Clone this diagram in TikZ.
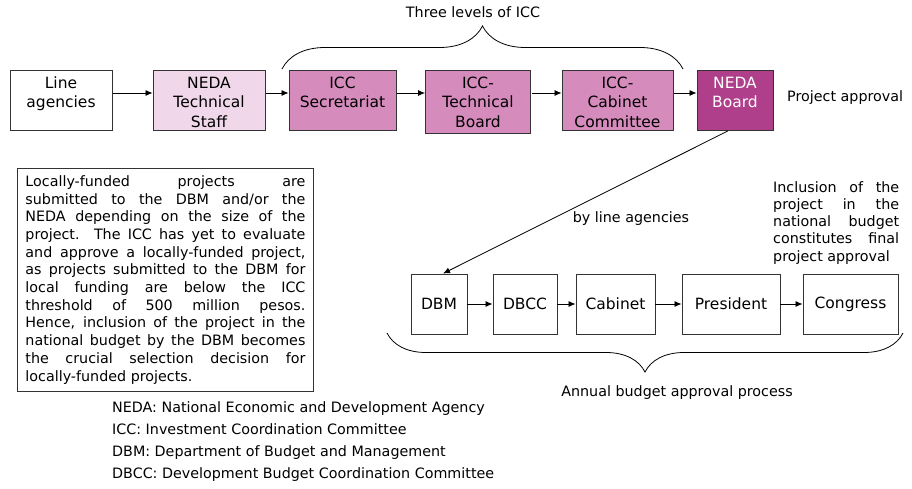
\documentclass[tikz,border=0pt]{standalone}
\usepackage{fontspec}
\setmainfont{DejaVu Sans}
\usepackage{xcolor}
\usepackage{tikz}
\usetikzlibrary{arrows.meta,decorations.pathreplacing}
\definecolor{edge}{HTML}{333333}
\definecolor{staff}{HTML}{F0D7E9}
\definecolor{icc}{HTML}{D68BBD}
\definecolor{board}{HTML}{AF3F8A}
\newcommand{\jline}[1]{\makebox[280pt][s]{#1}}
\newcommand{\kline}[1]{\makebox[126pt][s]{#1}}
\newcommand{\stack}[1]{\begin{tabular}[t]{@{}c@{}}#1\end{tabular}}
\tikzset{
  box/.style={draw=edge, line width=0.9pt, anchor=north, minimum height=60pt,
    inner xsep=2pt, inner ysep=0pt, text height=18pt, text depth=42pt,
    font=\fontsize{15.5}{19.5}\selectfont},
  sbox/.style={draw=edge, line width=0.9pt, minimum height=60pt,
    font=\fontsize{15.5}{19}\selectfont},
  arr/.style={draw=black, line width=0.8pt, -{Latex[length=7pt,width=6pt]}},
  brc/.style={draw=black, line width=0.8pt, decorate},
  lab/.style={font=\fontsize{14.3}{17.3}\selectfont, inner sep=0pt},
}
\begin{document}
\begin{tikzpicture}[x=1pt,y=-1pt]
  \useasboundingbox (0,0) rectangle (912,488);
  % ICC route
  \node[box,minimum width=102pt] (la) at (61,70) {\stack{Line\\agencies}};
  \node[box,fill=staff,minimum width=112pt] (nts) at (209,70) {\stack{NEDA\\Technical\\Staff}};
  \node[box,fill=icc,minimum width=107pt] (sec) at (342.5,70) {\stack{ICC\\Secretariat}};
  \node[box,fill=icc,minimum width=105pt,minimum height=63pt,text depth=45pt] (tb) at (478,70) {\stack{ICC-\\Technical\\Board}};
  \node[box,fill=icc,minimum width=111pt] (cc) at (617.5,70) {\stack{ICC-\\Cabinet\\Committee}};
  \node[box,fill=board,text=white,minimum width=76pt] (nb) at (735,70) {\stack{NEDA\\Board}};
  \foreach \A/\B in {la/nts,nts/sec,sec/tb,tb/cc,cc/nb}
    \draw[arr] ([xshift=1pt]\A.east |- 0,93) -- (\B.west |- 0,93);
  \draw[brc,decoration={brace,amplitude=43pt}] (282,69) -- (683,69);
  \node[lab,anchor=base] (lvl) at (473,17.5) {Three levels of ICC};
  \node[lab,anchor=base west] (pa) at (787,101) {Project approval};

  % budget route
  \node[sbox,minimum width=56pt] (dbm) at (439,304) {DBM};
  \node[sbox,minimum width=64pt] (dbcc) at (525,304) {DBCC};
  \node[sbox,minimum width=79pt] (cab) at (615.5,304) {Cabinet};
  \node[sbox,minimum width=98pt] (pres) at (731,304) {President};
  \node[sbox,minimum width=95pt] (cong) at (850.5,304) {Congress};
  \foreach \A/\B in {dbm/dbcc,dbcc/cab,cab/pres,pres/cong}
    \draw[arr] (\A) -- (\B);
  \draw[arr] ([xshift=-7pt]nb.south) -- ([xshift=4pt]dbm.north);
  \node[lab,anchor=base] (bla) at (631,222) {by line agencies};
  \node[lab,anchor=north west,align=left] (incl) at (773,181)
    {\kline{Inclusion of the}\\\kline{project in the}\\\kline{national budget}\\\kline{constitutes final}\\project approval};
  \draw[brc,decoration={brace,amplitude=39pt}] (903,333) -- (387,333);
  \node[lab,anchor=base] (abp) at (677,396) {Annual budget approval process};

  % note
  \node[draw=edge,line width=0.9pt,anchor=north west,inner xsep=8pt,inner ysep=7pt,
    align=left,font=\fontsize{14.3}{17.7}\selectfont] (note) at (17,168)
    {\jline{Locally-funded projects are}\\
     \jline{submitted to the DBM and/or the}\\
     \jline{NEDA depending on the size of the}\\
     \jline{project.\ \ The ICC has yet to evaluate}\\
     \jline{and approve a locally-funded project,}\\
     \jline{as projects submitted to the DBM for}\\
     \jline{local funding are below the ICC}\\
     \jline{threshold of 500 million pesos.}\\
     \jline{Hence, inclusion of the project in the}\\
     \jline{national budget by the DBM becomes}\\
     \jline{the crucial selection decision for}\\
     locally-funded projects.};

  % legend
  \foreach \T [count=\i] in {NEDA: National Economic and Development Agency,
      ICC: Investment Coordination Committee,
      DBM: Department of Budget and Management,
      DBCC: Development Budget Coordination Committee}
    \node[lab,anchor=base west] (leg\i) at (112,{391+21.8*\i}) {\T};
\end{tikzpicture}
\end{document}
